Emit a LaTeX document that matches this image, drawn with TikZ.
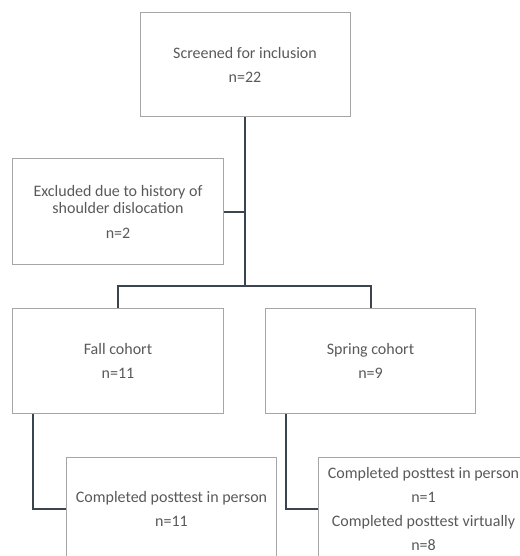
\documentclass[tikz,border=0pt]{standalone}
\usepackage{fontspec}
\setmainfont{Carlito}
\definecolor{txtgrey}{HTML}{595959}
\definecolor{boxgrey}{HTML}{A6A6A6}
\definecolor{linedark}{HTML}{3A4550}
\begin{document}
\begin{tikzpicture}[x=1bp,y=-1bp,
  box/.style={draw=boxgrey,line width=1bp,minimum width=210bp,minimum height=104bp,
    inner sep=0pt,align=center,text=txtgrey,font=\fontsize{16bp}{24bp}\selectfont},
  conn/.style={draw=linedark,line width=2bp}]
\useasboundingbox (0,0) rectangle (520,556);
\clip (0,0) rectangle (520,556);
\node[box] (top) at (245,64.5) {Screened for inclusion\\n=22};
\node[box,minimum height=105bp,font=\fontsize{16bp}{17bp}\selectfont] (excl) at (118,211.5) {Excluded due to history of\\shoulder dislocation\\[8bp]n=2};
\node[box,minimum height=105bp] (fall) at (118,360.5) {Fall cohort\\n=11};
\node[box,minimum height=105bp] (spring) at (370.5,360.5) {Spring cohort\\n=9};
\node[box] (bl) at (171.5,509) {Completed posttest in person\\n=11};
\node[box] (br) at (423.5,509) {Completed posttest in person\\n=1\\Completed posttest virtually\\n=8};
\coordinate (split) at (245,286);
\draw[conn] (top.south) -- (split);
\draw[conn] (excl.east) -- (excl.east -| top.south);
\draw[conn] (fall.north) |- (split) -| (spring.north);
\draw[conn] ([xshift=21bp]fall.south west) |- (bl.west);
\draw[conn] ([xshift=21bp]spring.south west) |- (br.west);
\end{tikzpicture}
\end{document}
